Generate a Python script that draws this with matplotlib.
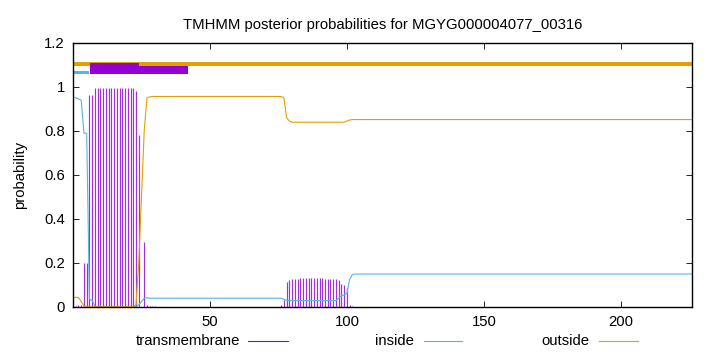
import numpy as np
import matplotlib.pyplot as plt
from matplotlib.lines import Line2D

plt.rcParams['font.family'] = ['Liberation Sans', 'DejaVu Sans']

title = 'TMHMM posterior probabilities for MGYG000004077_00316'

# posterior probabilities per residue (227 positions)
tm_prob = ([0.005, 0.003, 0.01, 0.008, 0.2, 0.2, 0.965, 0.965]
           + [0.995] * 15
           + [0.98, 0.78, 0.0, 0.295, 0.01, 0.006, 0.004, 0.003, 0.002, 0.002, 0.002, 0.002]
           + [0.0] * 40
           + [0.002, 0.008, 0.03, 0.115, 0.125,
              0.126, 0.127, 0.128, 0.13, 0.13, 0.131, 0.131, 0.131,
              0.13, 0.13, 0.13, 0.13, 0.129, 0.128, 0.127, 0.126,
              0.126, 0.122, 0.105, 0.1, 0.085, 0.01, 0.003]
           + [0.0] * 124)

inside_prob = ([0.956, 0.95, 0.946, 0.94, 0.79, 0.79, 0.035, 0.03, 0.003]
               + [0.001] * 14
               + [0.002, 0.01, 0.025, 0.04, 0.042]
               + [0.04] * 49
               + [0.035, 0.03]
               + [0.029] * 18
               + [0.04, 0.05, 0.055, 0.062, 0.125, 0.148]
               + [0.15] * 124)

outside_prob = ([0.044, 0.044, 0.043, 0.025, 0.005, 0.003]
                + [0.001] * 16
                + [0.003, 0.01, 0.2, 0.5, 0.8, 0.95, 0.955]
                + [0.957] * 48
                + [0.95, 0.86, 0.845]
                + [0.84] * 20
                + [0.845, 0.85]
                + [0.852] * 125)

# predicted topology segments drawn above the curves (start, end, low, high)
tm_segments = [(6.2, 24.1, 1.0605, 1.1105), (24.1, 42.1, 1.0605, 1.097)]
inside_segments = [(0, 6.0, 1.0605, 1.0727)]
outside_segments = [(0, 226, 1.0945, 1.1114)]

c_tm = '#9400D3'
c_in = '#56B4E9'
c_out = '#E69F00'
fs = 10.7

fig = plt.figure(figsize=(7.2, 3.52), dpi=100)
ax = fig.add_axes([73 / 720, 1 - 307 / 352, (692 - 73) / 720, (307 - 43) / 352])

pos = np.arange(len(tm_prob))

for s, e, lo, hi in outside_segments:
    ax.fill_between([s, e], lo, hi, color=c_out, lw=0)
for s, e, lo, hi in inside_segments:
    ax.fill_between([s, e], lo, hi, color=c_in, lw=0)
for s, e, lo, hi in tm_segments:
    ax.fill_between([s, e], lo, hi, color=c_tm, lw=0)

ax.vlines(pos, 0, tm_prob, color='#a030dd', lw=0.85)
ax.plot(pos, inside_prob, color=c_in, lw=0.8)
ax.plot(pos, outside_prob, color=c_out, lw=0.8)

ax.set_xlim(0, 226)
ax.set_ylim(0, 1.2)
ax.set_xticks([50, 100, 150, 200])
ax.set_yticks([0, 0.2, 0.4, 0.6, 0.8, 1.0, 1.2])
ax.set_yticklabels(['0', '0.2', '0.4', '0.6', '0.8', '1', '1.2'])
ax.tick_params(direction='in', top=True, right=True, length=4, width=0.6,
               labelsize=fs, pad=6)
for sp in ax.spines.values():
    sp.set_linewidth(1.0)

ax.set_ylabel('probability', fontsize=fs, labelpad=12)
ax.set_title(title, fontsize=fs, pad=10)

# legend row under the axis
legend_items = [('transmembrane', c_tm, 240, 248, 288),
                ('inside', c_in, 414, 424, 462),
                ('outside', c_out, 589, 599, 638)]
ly = 1 - 341 / 352
for label, col, tx, l0, l1 in legend_items:
    fig.text(tx / 720, ly, label, ha='right', va='center', fontsize=fs)
    fig.add_artist(Line2D([l0 / 720, l1 / 720], [ly, ly], color=col, lw=0.8,
                          transform=fig.transFigure))

fig.savefig('out.png', dpi=100)
